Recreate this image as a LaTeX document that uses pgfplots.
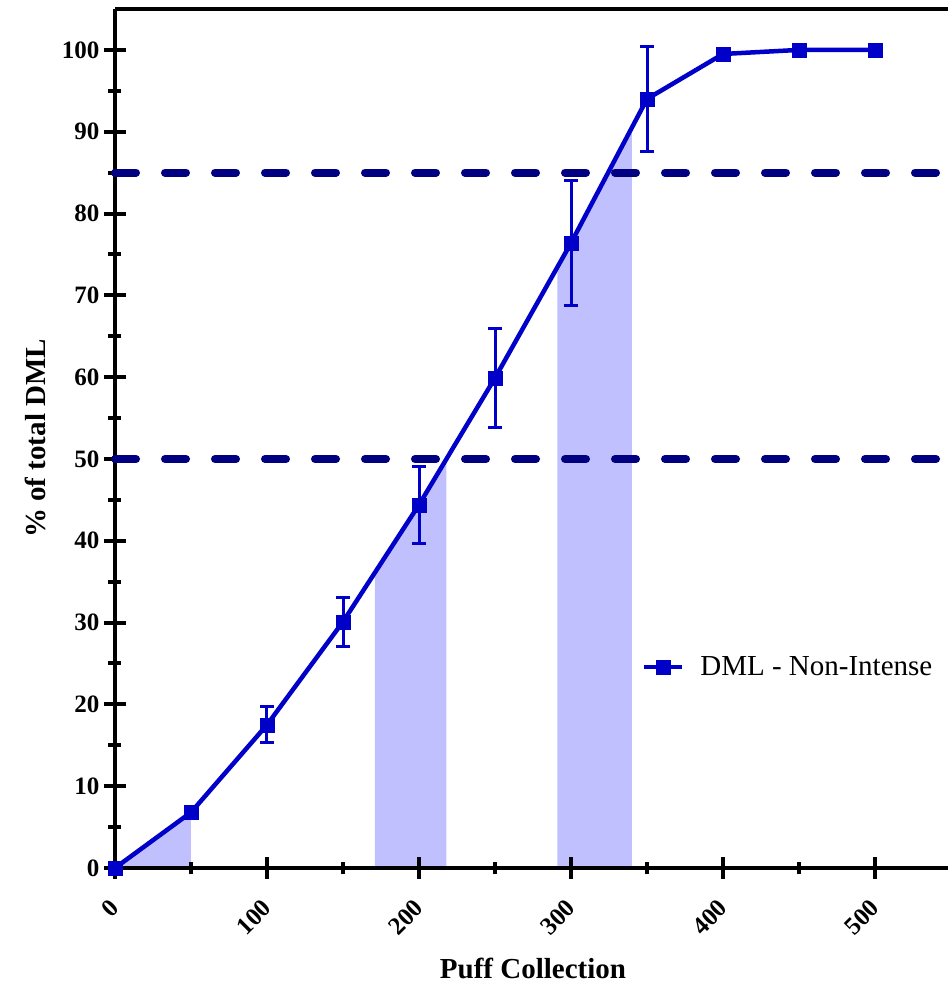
\documentclass[border=0pt]{standalone}
\usepackage{fontspec}
\setmainfont{Liberation Serif}
\usepackage{pgfplots}
\pgfplotsset{compat=1.18}

\definecolor{dmlblue}{RGB}{0,0,200}
\definecolor{refnavy}{RGB}{0,0,128}
\definecolor{bandfill}{RGB}{192,192,255}

\newcommand{\tickfont}{\fontsize{25}{30}\selectfont}
\newcommand{\lblfont}{\fontsize{29}{34}\selectfont}

\begin{document}
\begin{tikzpicture}
\begin{axis}[
  set layers,
  scale only axis,
  width=836pt, height=859pt,
  xmin=0, xmax=550, ymin=0, ymax=105,
  clip=false,
  axis x line*=bottom, axis y line*=left,
  axis line style={line width=4pt, black},
  xtick={0,100,...,500}, minor xtick={50,150,...,450},
  ytick={0,10,...,100}, minor ytick={5,15,...,95},
  tick align=center,
  major tick length=22pt, minor tick length=13pt,
  every tick/.style={black, line width=4pt},
  /pgf/number format/assume math mode=true,
  ticklabel style={font=\bfseries\tickfont},
  xticklabel style={xshift=-6pt, yshift=-14pt, rotate=45, anchor=north east},
  yticklabel style={xshift=-1pt},
  every axis x label/.style={at={(axis description cs:0.5,-0.1164)}, anchor=center},
  every axis y label/.style={at={(axis description cs:-0.0955,0.5)}, rotate=90, anchor=center},
  label style={font=\bfseries\lblfont},
  xlabel={Puff Collection},
  ylabel={\% of total DML},
  legend style={at={(axis description cs:0.630,0.234)}, anchor=west,
    draw=none, fill=none, inner sep=0pt, font=\lblfont,
    column sep=14pt, cells={anchor=west}},
  legend image code/.code={%
    \draw[mark repeat=2, mark phase=2, #1]
      plot coordinates {(0pt,0pt) (19pt,0pt) (38pt,0pt)};},
]
\coordinate (ll) at (rel axis cs:0,0);

% shaded bands under the cumulative curve
\addplot[fill=bandfill, draw=none, on layer=axis background, forget plot]
  coordinates {(0,0) (50,6.8) (50,0)} -- cycle;
\addplot[fill=bandfill, draw=none, on layer=axis background, forget plot]
  coordinates {(171,0) (171,36.1) (200,44.4) (218,50) (218,0)} -- cycle;
\addplot[fill=bandfill, draw=none, on layer=axis background, forget plot]
  coordinates {(291,0) (291,73.4) (300,76.4) (340,90.5) (340,0)} -- cycle;

% 50 % and 85 % reference levels
\addplot[refnavy, line width=8pt, line cap=round, dash pattern=on 21pt off 29pt, forget plot]
  coordinates {(0,85) (550,85)};
\addplot[refnavy, line width=8pt, line cap=round, dash pattern=on 21pt off 29pt, forget plot]
  coordinates {(0,50) (550,50)};

% cumulative DML with error bars
\addplot[dmlblue, line width=4.5pt, mark=square*, mark size=7pt,
  mark options={solid, line width=0.5pt, fill=dmlblue, draw=dmlblue},
  error bars/.cd, y dir=both, y explicit,
  error bar style={line width=3pt, dmlblue},
  error mark options={rotate=90, mark size=7pt, line width=3pt, dmlblue}]
  coordinates {
    (0,0) +- (0,0)
    (50,6.8) +- (0,0.5)
    (100,17.5) +- (0,2.2)
    (150,30.1) +- (0,3.0)
    (200,44.4) +- (0,4.7)
    (250,59.9) +- (0,6.1)
    (300,76.4) +- (0,7.6)
    (350,94.0) +- (0,6.4)
    (400,99.5) +- (0,0)
    (450,100.0) +- (0,0)
    (500,100.0) +- (0,0)
  };
\addlegendentry{DML - Non-Intense}

% top frame line
\draw[line width=4pt, black] (rel axis cs:0,1) -- (rel axis cs:1,1);
\end{axis}
\pgfresetboundingbox
\path[use as bounding box] ([xshift=-115pt,yshift=-115pt]ll) rectangle ([xshift=833pt,yshift=868pt]ll);
\end{tikzpicture}
\end{document}
